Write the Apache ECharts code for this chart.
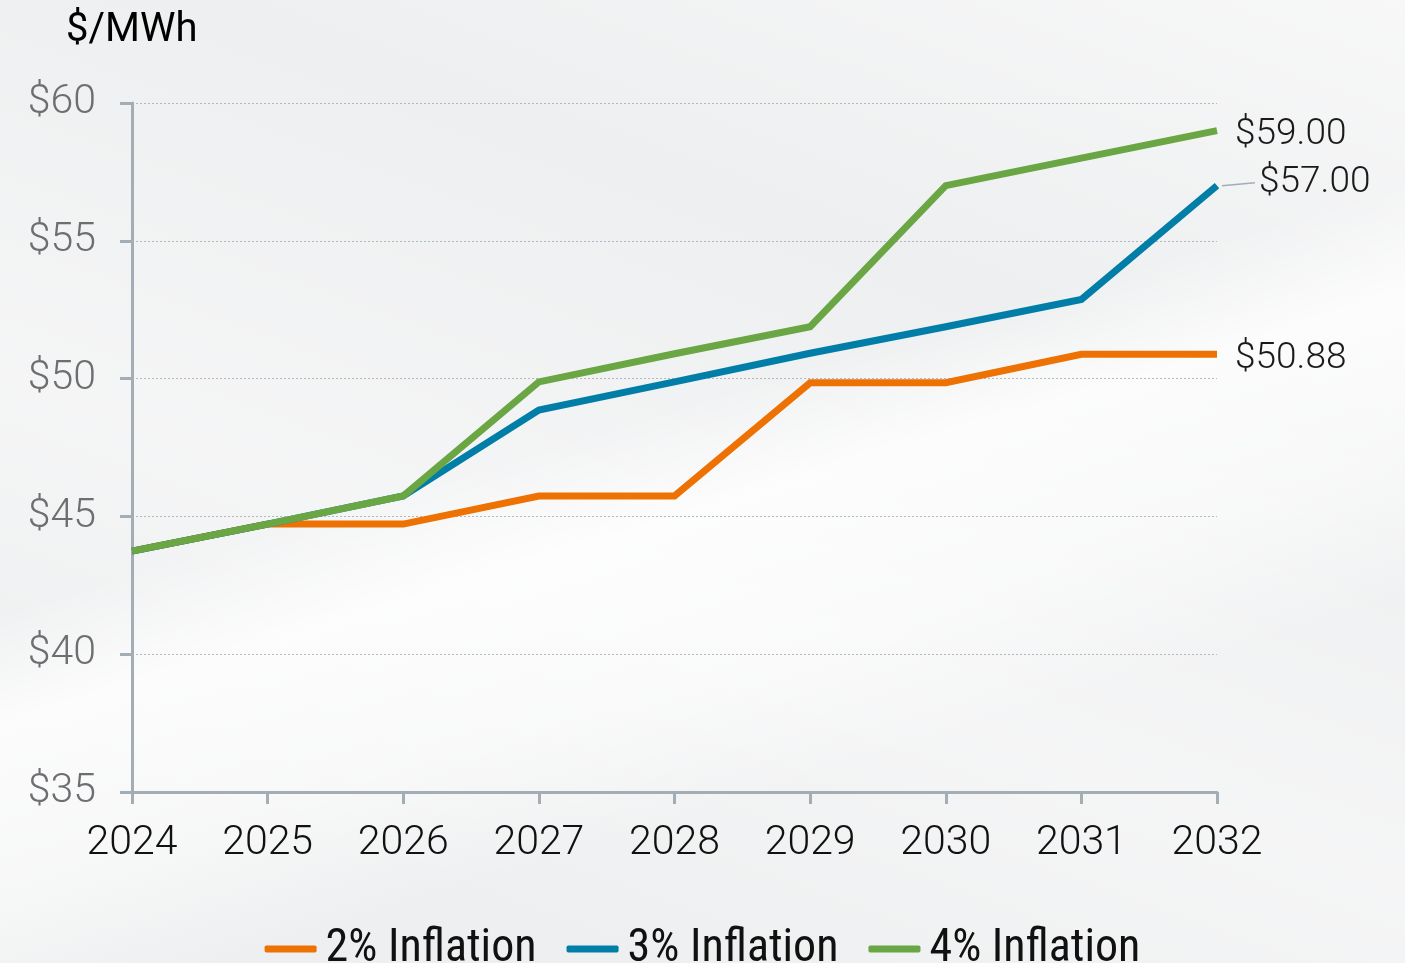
<!DOCTYPE html>
<html>
<head>
<meta charset="utf-8">
<script src="https://cdn.jsdelivr.net/npm/echarts@6/dist/echarts.min.js"></script>
<style>
html,body{margin:0;padding:0;width:1405px;height:963px;overflow:hidden;}
body{
  background:
    linear-gradient(163deg, rgba(255,255,255,0) 0%, rgba(255,255,255,0) 44%, rgba(255,255,255,0.8) 52%, rgba(255,255,255,0.55) 64%, rgba(255,255,255,0) 74%),
    linear-gradient(200deg, rgba(255,255,255,0.55) 0%, rgba(255,255,255,0) 30%, rgba(255,255,255,0.4) 60%, rgba(255,255,255,0) 85%),
    #eeeff0;
}
#chart{width:1405px;height:963px;}
</style>
</head>
<body>
<div id="chart"></div>
<script>
var years = ['2024','2025','2026','2027','2028','2029','2030','2031','2032'];
var yTicks = ['$35','$40','$45','$50','$55','$60'];
var seriesNames = ['2% Inflation','3% Inflation','4% Inflation'];
var infl2 = [43.74, 44.72, 44.72, 45.74, 45.74, 49.85, 49.85, 50.88, 50.88];
var infl3 = [43.74, 44.72, 45.74, 48.86, 49.88, 50.92, 51.88, 52.87, 57.00];
var infl4 = [43.74, 44.72, 45.74, 49.88, 50.90, 51.88, 57.00, 58.00, 59.00];
var endLabels = ['$50.88','$57.00','$59.00'];
var colors = ['#ee7203','#007ea7','#6aa643'];
var FONT = 'Roboto, "Open Sans", sans-serif';

var chart = echarts.init(document.getElementById('chart'), null, {renderer:'canvas'});

function mkSeries(idx, values, endDist, endDy) {
  return {
    name: seriesNames[idx],
    type: 'line',
    data: values,
    symbol: 'none',
    showSymbol: false,
    z: 2 + idx,
    lineStyle: {width: 7, color: colors[idx], cap: 'butt', join: 'miter'},
    itemStyle: {color: colors[idx]},
    endLabel: {
      show: true, formatter: endLabels[idx], distance: endDist,
      offset: [0, endDy],
      color: '#1a1a1a', fontSize: 37, fontWeight: 300, fontFamily: FONT
    },
    emphasis: {disabled: true},
    animation: false
  };
}

var option = {
  backgroundColor: 'transparent',
  animation: false,
  grid: {left: 132, right: 188, top: 103, bottom: 171, containLabel: false},
  title: {
    text: '$/MWh', left: 61, top: 6,
    textStyle: {color: '#000', fontSize: 40, fontWeight: 'normal', fontFamily: FONT}
  },
  legend: {
    bottom: -14, left: 'center',
    itemWidth: 52, itemHeight: 7, itemGap: 30,
    icon: 'roundRect',
    textStyle: {color: '#111', fontSize: 46, fontFamily: '"Liberation Sans Narrow", "Roboto Condensed", sans-serif', padding: [0,0,0,4]},
    data: seriesNames.map(function(n, i){ return {name: n, itemStyle: {color: colors[i]}}; })
  },
  xAxis: {
    type: 'category',
    data: years,
    boundaryGap: false,
    axisLine: {show: true, lineStyle: {color: '#a3adb6', width: 3}},
    axisTick: {show: true, length: 12, lineStyle: {color: '#a3adb6', width: 3}, alignWithLabel: true},
    axisLabel: {color: '#111', fontSize: 41, fontWeight: 300, margin: 31, fontFamily: FONT},
    splitLine: {show: false}
  },
  yAxis: {
    type: 'value',
    min: 35, max: 60, interval: 5,
    axisLine: {show: true, lineStyle: {color: '#a3adb6', width: 3}},
    axisTick: {show: true, length: 12, lineStyle: {color: '#a3adb6', width: 3}},
    axisLabel: {
      color: '#6d6e71', fontSize: 41, fontWeight: 300, margin: 36,
      fontFamily: FONT, padding: [4, 0, 0, 0],
      formatter: function(v){ return yTicks[Math.round((v - 35) / 5)]; }
    },
    splitLine: {show: true, lineStyle: {color: '#b4b8bc', width: 1, type: [2, 2]}}
  },
  series: [
    mkSeries(0, infl2, 18, 4),
    mkSeries(1, infl3, 42, -3),
    mkSeries(2, infl4, 18, 4)
  ]
};
chart.setOption(option);

// leader line for the 3% end label, positioned from the chart's own scale
var last = years.length - 1;
var p = chart.convertToPixel({gridIndex: 0}, [years[last], infl3[last]]);
chart.setOption({
  graphic: [{
    type: 'line', silent: true, z: 10,
    shape: {x1: p[0] + 5, y1: p[1], x2: p[0] + 38, y2: p[1] - 3},
    style: {stroke: '#a3adb6', lineWidth: 1.5}
  }]
});
</script>
</body>
</html>
